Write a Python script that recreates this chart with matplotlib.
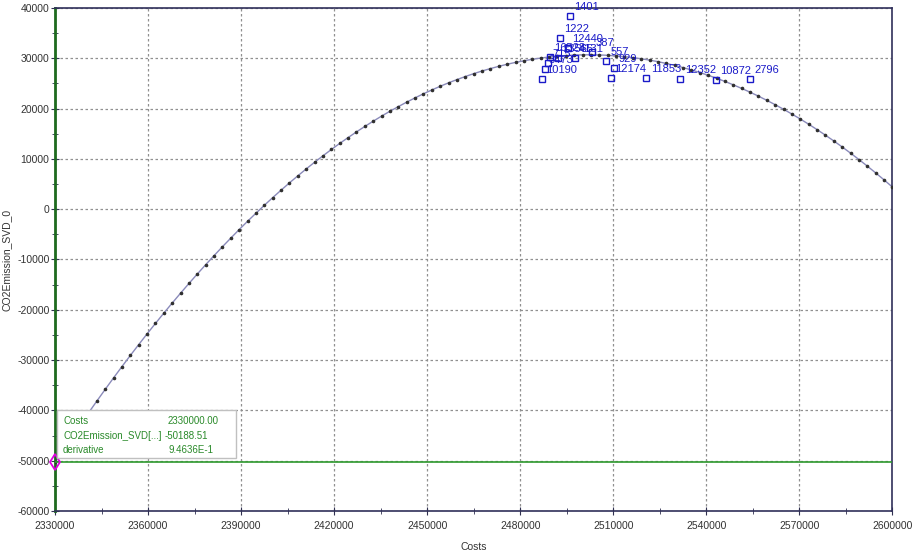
import numpy as np
import matplotlib
matplotlib.use("Agg")
import matplotlib.pyplot as plt
from matplotlib.patches import Rectangle
from matplotlib.ticker import MultipleLocator

plt.rcParams['font.family'] = ['Liberation Sans', 'DejaVu Sans']
plt.rcParams['axes.unicode_minus'] = False

# ---- fitted curve: Costs -> CO2Emission_SVD_0 (dots every 2700 on the x axis)
curve_x0 = 2330000
curve_step = 2700
curve_y = [-50360, -47840, -45350, -42910, -40500, -38140, -35810, -33520, -31280, -29070,
           -26910, -24780, -22700, -20650, -18650, -16680, -14760, -12870, -11020, -9220,
           -7450, -5730, -4040, -2390, -790, 780, 2310, 3790, 5240, 6640,
           8010, 9340, 10620, 11870, 13080, 14240, 15370, 16460, 17500, 18510,
           19480, 20400, 21290, 22140, 22950, 23710, 24440, 25130, 25770, 26380,
           26950, 27480, 27960, 28410, 28820, 29190, 29510, 29800, 30050, 30260,
           30430, 30550, 30640, 30690, 30700, 30670, 30590, 30480, 30330, 30140,
           29910, 29640, 29330, 28970, 28580, 28150, 27680, 27170, 26620, 26030,
           25400, 24720, 24010, 23260, 22470, 21640, 20770, 19860, 18910, 17920,
           16890, 15820, 14710, 13560, 12370, 11140, 9870, 8560, 7210, 5820,
           4390]
curve_x = [curve_x0 + curve_step * i for i in range(len(curve_y))]

# ---- labelled sample points
pt_x = [2495950, 2492740, 2495300, 2503040, 2507780, 2510250, 2509180, 2520680,
        2531640, 2543010, 2554190, 2487030, 2487900, 2489560, 2492140, 2497610, 2488870]
pt_y = [38410, 34100, 31970, 31180, 29380, 27990, 26140, 26140,
        25860, 25740, 25860, 25800, 27790, 30180, 29980, 29980, 28980]
pt_lbl = ['1401', '1222', '12440', '387', '557', '929', '12174', '11853',
          '12352', '10872', '2796', '10190', '3473', '16528', '13565', '4131', '715']

# ---- x ticks
xticks = [2330000, 2360000, 2390000, 2420000, 2450000, 2480000, 2510000, 2540000, 2570000, 2600000]

# ---- cursor readout
cur_cost = 2330000.00
cur_co2 = -50188.51
cur_deriv = '9.4636E-1'

fig = plt.figure(figsize=(9.18, 5.52), dpi=100)
ax = fig.add_axes([0.0599, 0.0743, 0.9123, 0.9112])

ax.plot(curve_x, curve_y, color='#8a8aba', lw=1.0, zorder=2)
ax.plot(curve_x, curve_y, ls='none', marker='o', ms=1.6, color='#303030', zorder=3)

ax.plot(pt_x, pt_y, ls='none', marker='s', ms=4, mfc='none', mec='#1a1ac8', mew=1.0, zorder=4)
for x, y, s in zip(pt_x, pt_y, pt_lbl):
    ax.annotate(s, (x, y), xytext=(3, 3), textcoords='offset points',
                color='#1a1ac8', fontsize=8, ha='left', va='bottom', zorder=5)

# horizontal cursor line + marker
ax.axhline(cur_co2, color='#2f9a2f', lw=1.2, zorder=3)
ax.plot([cur_cost], [cur_co2], marker='d', ms=8, mfc='none', mec='#e000e0', mew=1.3,
        clip_on=False, zorder=6)

ax.set_xlim(2330000, 2600000)
ax.set_ylim(-60000, 40000)
ax.set_xticks(xticks)
ax.set_xticks([t + 15000 for t in xticks[:-1]], minor=True)
ax.set_xticklabels([str(t) for t in xticks])
ax.yaxis.set_major_locator(MultipleLocator(10000))
ax.yaxis.set_minor_locator(MultipleLocator(5000))
ax.grid(True, which='major', color='#909090', ls=(0, (2, 2)), lw=0.9)
ax.set_axisbelow(True)

ax.tick_params(which='both', direction='inout', labelsize=7.5, labelcolor='#333333', color='#303050')
ax.tick_params(which='major', length=6)
ax.tick_params(which='minor', length=5)
ax.tick_params(axis='x', pad=4)
ax.tick_params(axis='y', pad=1)

for side in ['top', 'right', 'bottom']:
    ax.spines[side].set_color('#30305a')
    ax.spines[side].set_linewidth(1.2)
ax.spines['left'].set_color('#1e6a1e')
ax.spines['left'].set_linewidth(2)

ax.set_xlabel('Costs', fontsize=7.5, color='#333333', labelpad=8)
ax.set_ylabel('CO2Emission_SVD_0', fontsize=7.5, color='#333333', labelpad=4)

# readout box
ax.add_patch(Rectangle((0.0024, 0.105), 0.2136, 0.096, transform=ax.transAxes,
                       facecolor='white', edgecolor='#c0c0c0', lw=1, zorder=7))
tc = '#2a8a2a'
rows = [('Costs', f'{cur_cost:.2f}'),
        ('CO2Emission_SVD[...]', f'{cur_co2:.2f}'),
        ('derivative', cur_deriv)]
for i, (k, v) in enumerate(rows):
    yy = 0.179 - i * 0.029
    ax.text(0.0096, yy, k, transform=ax.transAxes, color=tc, fontsize=7, va='center', zorder=8)
    ax.text(0.135 if i != 1 else 0.131, yy, v, transform=ax.transAxes, color=tc,
            fontsize=7, va='center', zorder=8)

fig.savefig('out.png', dpi=100)
